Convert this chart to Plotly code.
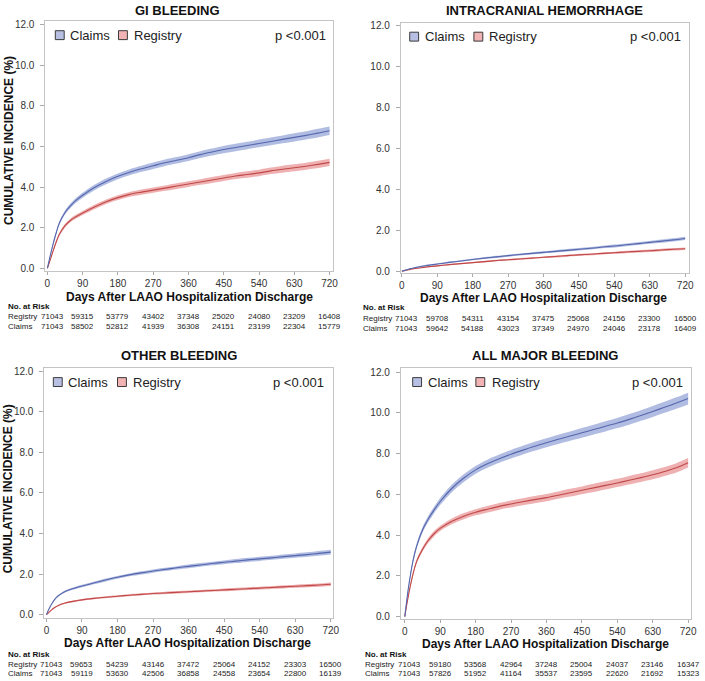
import plotly.graph_objects as go

# ---------------- data ----------------
days = [0, 7, 14, 21, 30, 45, 60, 75, 90, 120, 150, 180, 210, 240, 270, 300,
        330, 360, 390, 420, 450, 480, 510, 540, 570, 600, 630, 660, 690, 720]

gi_claims = [0, 0.6, 1.15, 1.65, 2.2, 2.75, 3.1, 3.38, 3.6, 3.98, 4.28, 4.53, 4.73, 4.9, 5.05,
             5.2, 5.32, 5.45, 5.6, 5.73, 5.85, 5.95, 6.05, 6.15, 6.25, 6.35, 6.45, 6.55, 6.66, 6.78]
gi_claims_hw = [0, 0.05, 0.07, 0.08, 0.09, 0.1, 0.11, 0.12, 0.12, 0.13, 0.14, 0.14, 0.15, 0.15, 0.16,
                0.16, 0.16, 0.17, 0.17, 0.17, 0.18, 0.18, 0.18, 0.19, 0.19, 0.19, 0.2, 0.2, 0.21, 0.21]
gi_registry = [0, 0.4, 0.82, 1.22, 1.65, 2.1, 2.38, 2.56, 2.72, 3.02, 3.28, 3.48, 3.64, 3.75, 3.85,
               3.95, 4.05, 4.15, 4.25, 4.35, 4.45, 4.55, 4.62, 4.7, 4.8, 4.88, 4.95, 5.03, 5.12, 5.22]
gi_registry_hw = [0, 0.04, 0.06, 0.07, 0.08, 0.09, 0.09, 0.1, 0.1, 0.11, 0.11, 0.12, 0.12, 0.13, 0.13,
                  0.13, 0.14, 0.14, 0.14, 0.15, 0.15, 0.15, 0.16, 0.16, 0.16, 0.17, 0.17, 0.17, 0.18, 0.18]

ich_claims = [0, 0.04, 0.08, 0.12, 0.16, 0.22, 0.27, 0.31, 0.35, 0.43, 0.5, 0.57, 0.64, 0.7, 0.76,
              0.82, 0.87, 0.92, 0.97, 1.02, 1.07, 1.12, 1.18, 1.23, 1.29, 1.35, 1.41, 1.47, 1.53, 1.6]
ich_claims_hw = [0, 0.01, 0.02, 0.02, 0.02, 0.03, 0.03, 0.03, 0.03, 0.04, 0.04, 0.04, 0.04, 0.05, 0.05,
                 0.05, 0.05, 0.05, 0.06, 0.06, 0.06, 0.06, 0.06, 0.07, 0.07, 0.07, 0.07, 0.08, 0.08, 0.08]
ich_registry = [0, 0.03, 0.06, 0.09, 0.12, 0.16, 0.2, 0.23, 0.26, 0.32, 0.37, 0.42, 0.47, 0.52, 0.56,
                0.6, 0.64, 0.68, 0.72, 0.76, 0.8, 0.83, 0.87, 0.9, 0.94, 0.97, 1.0, 1.04, 1.07, 1.1]
ich_registry_hw = [0, 0.01, 0.01, 0.02, 0.02, 0.02, 0.02, 0.03, 0.03, 0.03, 0.03, 0.03, 0.04, 0.04, 0.04,
                   0.04, 0.04, 0.04, 0.05, 0.05, 0.05, 0.05, 0.05, 0.05, 0.06, 0.06, 0.06, 0.06, 0.06, 0.06]

oth_claims = [0, 0.3, 0.55, 0.75, 0.93, 1.12, 1.24, 1.33, 1.41, 1.56, 1.71, 1.84, 1.96, 2.06, 2.15,
              2.23, 2.31, 2.38, 2.45, 2.52, 2.58, 2.64, 2.7, 2.75, 2.8, 2.86, 2.91, 2.96, 3.02, 3.08]
oth_claims_hw = [0, 0.02, 0.03, 0.04, 0.04, 0.05, 0.05, 0.06, 0.06, 0.06, 0.07, 0.07, 0.07, 0.08, 0.08,
                 0.08, 0.08, 0.09, 0.09, 0.09, 0.09, 0.1, 0.1, 0.1, 0.1, 0.11, 0.11, 0.11, 0.12, 0.12]
oth_registry = [0, 0.12, 0.25, 0.35, 0.45, 0.56, 0.63, 0.68, 0.73, 0.8, 0.86, 0.91, 0.96, 1.0, 1.04,
                1.07, 1.1, 1.13, 1.16, 1.19, 1.22, 1.25, 1.28, 1.31, 1.34, 1.37, 1.4, 1.43, 1.46, 1.5]
oth_registry_hw = [0, 0.02, 0.02, 0.03, 0.03, 0.03, 0.04, 0.04, 0.04, 0.04, 0.05, 0.05, 0.05, 0.05, 0.05,
                   0.06, 0.06, 0.06, 0.06, 0.06, 0.07, 0.07, 0.07, 0.07, 0.07, 0.08, 0.08, 0.08, 0.08, 0.09]

all_claims = [0, 1.1, 2.0, 2.75, 3.45, 4.25, 4.8, 5.25, 5.65, 6.3, 6.8, 7.2, 7.5, 7.75, 7.97,
              8.17, 8.36, 8.53, 8.7, 8.86, 9.02, 9.18, 9.34, 9.5, 9.68, 9.87, 10.07, 10.27, 10.48, 10.7]
all_claims_hw = [0, 0.07, 0.09, 0.11, 0.13, 0.14, 0.15, 0.16, 0.17, 0.18, 0.19, 0.19, 0.2, 0.2, 0.21,
                 0.21, 0.22, 0.22, 0.23, 0.23, 0.24, 0.24, 0.25, 0.25, 0.26, 0.26, 0.27, 0.27, 0.28, 0.29]
all_registry = [0, 0.8, 1.5, 2.1, 2.7, 3.3, 3.75, 4.08, 4.33, 4.68, 4.93, 5.12, 5.27, 5.41, 5.53,
                5.64, 5.74, 5.84, 5.96, 6.08, 6.2, 6.32, 6.44, 6.56, 6.69, 6.82, 6.96, 7.12, 7.3, 7.55]
all_registry_hw = [0, 0.06, 0.08, 0.09, 0.1, 0.11, 0.12, 0.13, 0.13, 0.14, 0.15, 0.15, 0.16, 0.16, 0.17,
                   0.17, 0.18, 0.18, 0.18, 0.19, 0.19, 0.2, 0.2, 0.2, 0.21, 0.21, 0.22, 0.22, 0.23, 0.23]

risk_days = [0, 90, 180, 270, 360, 450, 540, 630, 720]
gi_risk_registry = [71043, 59315, 53779, 43402, 37348, 25020, 24080, 23209, 16408]
gi_risk_claims = [71043, 58502, 52812, 41939, 36308, 24151, 23199, 22304, 15779]
ich_risk_registry = [71043, 59708, 54311, 43154, 37475, 25068, 24156, 23300, 16500]
ich_risk_claims = [71043, 59642, 54188, 43023, 37349, 24970, 24046, 23178, 16409]
oth_risk_registry = [71043, 59653, 54239, 43146, 37472, 25064, 24152, 23303, 16500]
oth_risk_claims = [71043, 59119, 53630, 42506, 36858, 24558, 23654, 22800, 16139]
all_risk_registry = [71043, 59180, 53568, 42964, 37248, 25004, 24037, 23146, 16347]
all_risk_claims = [71043, 57826, 51952, 41164, 35537, 23595, 22620, 21692, 15323]

titles = ["GI BLEEDING", "INTRACRANIAL HEMORRHAGE", "OTHER BLEEDING", "ALL MAJOR BLEEDING"]
y_ticks = [0, 2, 4, 6, 8, 10, 12]
x_ticks = [0, 90, 180, 270, 360, 450, 540, 630, 720]

# ---------------- styling / layout ----------------
W, H = 705, 681
def PX(x): return x / W
def PY(y): return 1 - y / H

FONT = "Liberation Sans, Arial, sans-serif"
SMALL = "Liberation Sans, Arial, sans-serif"
C_LINE = "#5566AD"
C_BAND = "rgba(150,165,215,0.75)"
R_LINE = "#C04848"
R_BAND = "rgba(232,150,150,0.75)"

panels = [
    dict(title=titles[0], claims=gi_claims, chw=gi_claims_hw, reg=gi_registry, rhw=gi_registry_hw,
         rr=gi_risk_registry, rc=gi_risk_claims,
         frame=(44, 335, 18, 271), xr=[-5, 728], yr=[-0.146, 12.195],
         title_xy=(178, 8), leg_y=32.5, sq1=54, t1=67, sq2=118, t2=132, p_r=330,
         xt=(190, 297), risk=(4, 307, 317, 327), ytitle=139),
    dict(title=titles[1], claims=ich_claims, chw=ich_claims_hw, reg=ich_registry, rhw=ich_registry_hw,
         rr=ich_risk_registry, rc=ich_risk_claims,
         frame=(404, 696, 20, 273), xr=[-2.5, 730], yr=[-0.097, 12.145],
         title_xy=(550, 8), leg_y=34, sq1=413, t1=426, sq2=478, t2=491, p_r=690,
         xt=(549, 298), risk=(364, 308, 319, 329), ytitle=None),
    dict(title=titles[2], claims=oth_claims, chw=oth_claims_hw, reg=oth_registry, rhw=oth_registry_hw,
         rr=oth_risk_registry, rc=oth_risk_claims,
         frame=(43, 335, 369, 621), xr=[-5, 725], yr=[-0.146, 12.146],
         title_xy=(179, 356), leg_y=383, sq1=52, t1=65, sq2=117, t2=131, p_r=328,
         xt=(188, 647), risk=(4, 658, 668, 677), ytitle=491),
    dict(title=titles[3], claims=all_claims, chw=all_claims_hw, reg=all_registry, rhw=all_registry_hw,
         rr=all_risk_registry, rc=all_risk_claims,
         frame=(404, 698, 369, 622), xr=[-10, 727.5], yr=[-0.097, 12.19],
         title_xy=(550, 356), leg_y=383, sq1=416, t1=429, sq2=480, t2=494, p_r=692,
         xt=(551, 648), risk=(366, 658, 668, 677), ytitle=None),
]

fig = go.Figure()
annotations = []
shapes = []
layout = dict(width=W, height=H, margin=dict(l=0, r=0, t=0, b=0),
              paper_bgcolor="white", plot_bgcolor="white", showlegend=False,
              font=dict(family=FONT, color="#222"))

for i, p in enumerate(panels):
    n = i + 1
    xa = "x" if n == 1 else f"x{n}"
    ya = "y" if n == 1 else f"y{n}"
    xk = "xaxis" if n == 1 else f"xaxis{n}"
    yk = "yaxis" if n == 1 else f"yaxis{n}"
    x0, x1, y0, y1 = p["frame"]
    layout[xk] = dict(domain=[PX(x0), PX(x1)], anchor=ya, range=p["xr"],
                      tickvals=x_ticks, ticks="outside", ticklen=3, tickcolor="#AAAAAA",
                      showline=True, linecolor="#C4C4C4", linewidth=1, mirror=True,
                      showgrid=False, zeroline=False,
                      tickfont=dict(size=10, color="#333", family=FONT))
    layout[yk] = dict(domain=[PY(y1), PY(y0)], anchor=xa, range=p["yr"],
                      tickvals=y_ticks, tickformat=".1f", ticks="outside", ticklen=4,
                      tickcolor="#AAAAAA", showline=True, linecolor="#C4C4C4", linewidth=1,
                      mirror=True, showgrid=False, zeroline=False, ticklabelstandoff=4,
                      tickfont=dict(size=10, color="#333", family=FONT))

    for vals, hw, band in ((p["reg"], p["rhw"], R_BAND), (p["claims"], p["chw"], C_BAND)):
        upper = [v + h for v, h in zip(vals, hw)]
        lower = [v - h for v, h in zip(vals, hw)]
        fig.add_trace(go.Scatter(x=days, y=upper, mode="lines",
                                 line=dict(width=0, color=band, shape="spline", smoothing=0.8),
                                 xaxis=xa, yaxis=ya, hoverinfo="skip"))
        fig.add_trace(go.Scatter(x=days, y=lower, mode="lines",
                                 line=dict(width=0, color=band, shape="spline", smoothing=0.8),
                                 fill="tonexty", fillcolor=band, xaxis=xa, yaxis=ya, hoverinfo="skip"))
    for vals, line in ((p["reg"], R_LINE), (p["claims"], C_LINE)):
        fig.add_trace(go.Scatter(x=days, y=vals, mode="lines",
                                 line=dict(width=1.1, color=line, shape="spline", smoothing=0.8),
                                 xaxis=xa, yaxis=ya))

    # title
    tx, ty = p["title_xy"]
    annotations.append(dict(text=f"<b>{p['title']}</b>", x=PX(tx), y=PY(ty), xref="paper", yref="paper",
                            showarrow=False, xanchor="center", yanchor="middle",
                            font=dict(size=13, family=FONT, color="#111")))
    # legend
    ly = p["leg_y"]
    for sx, fillc in ((p["sq1"], "#B7C0E3"), (p["sq2"], "#F1B3B3")):
        shapes.append(dict(type="rect", xref="paper", yref="paper",
                           x0=PX(sx), x1=PX(sx + 9), y0=PY(ly + 4.5), y1=PY(ly - 4.5),
                           fillcolor=fillc, line=dict(color="#3A3A3A", width=1)))
    for txt, tx_ in (("Claims", p["t1"]), ("Registry", p["t2"])):
        annotations.append(dict(text=txt, x=PX(tx_), y=PY(ly), xref="paper", yref="paper",
                                showarrow=False, xanchor="left", yanchor="middle",
                                font=dict(size=13, family=FONT, color="#222")))
    annotations.append(dict(text="p &lt;0.001", x=PX(p["p_r"]), y=PY(ly), xref="paper", yref="paper",
                            showarrow=False, xanchor="right", yanchor="middle",
                            font=dict(size=13, family=FONT, color="#222")))
    # x-axis title
    xtx, xty = p["xt"]
    annotations.append(dict(text="<b>Days After LAAO Hospitalization Discharge</b>", x=PX(xtx), y=PY(xty),
                            xref="paper", yref="paper", showarrow=False, xanchor="center",
                            yanchor="middle", font=dict(size=12, family=FONT, color="#111")))
    # y-axis title
    if p["ytitle"] is not None:
        annotations.append(dict(text="<b>CUMULATIVE INCIDENCE (%)</b>", x=PX(6.5), y=PY(p["ytitle"]),
                                xref="paper", yref="paper", showarrow=False, textangle=-90,
                                xanchor="center", yanchor="middle",
                                font=dict(size=12, family=FONT, color="#111")))
    # number at risk
    rx, ry0, ry1, ry2 = p["risk"]
    annotations.append(dict(text="<b>No. at Risk</b>", x=PX(rx), y=PY(ry0), xref="paper", yref="paper",
                            showarrow=False, xanchor="left", yanchor="middle",
                            font=dict(size=8, family=SMALL, color="#111")))
    for lab, row, yy in (("Registry", p["rr"], ry1), ("Claims", p["rc"], ry2)):
        annotations.append(dict(text=lab, x=PX(rx), y=PY(yy), xref="paper", yref="paper",
                                showarrow=False, xanchor="left", yanchor="middle",
                                font=dict(size=8, family=SMALL, color="#222")))
        for d, v in zip(risk_days, row):
            annotations.append(dict(text=str(v), x=d, y=PY(yy), xref=xa, yref="paper",
                                    showarrow=False, xanchor="center", yanchor="middle",
                                    xshift=5 if d == 0 else 0,
                                    font=dict(size=8, family=SMALL, color="#222")))

layout["annotations"] = annotations
layout["shapes"] = shapes
fig.update_layout(**layout)
fig.write_html("out.html")
